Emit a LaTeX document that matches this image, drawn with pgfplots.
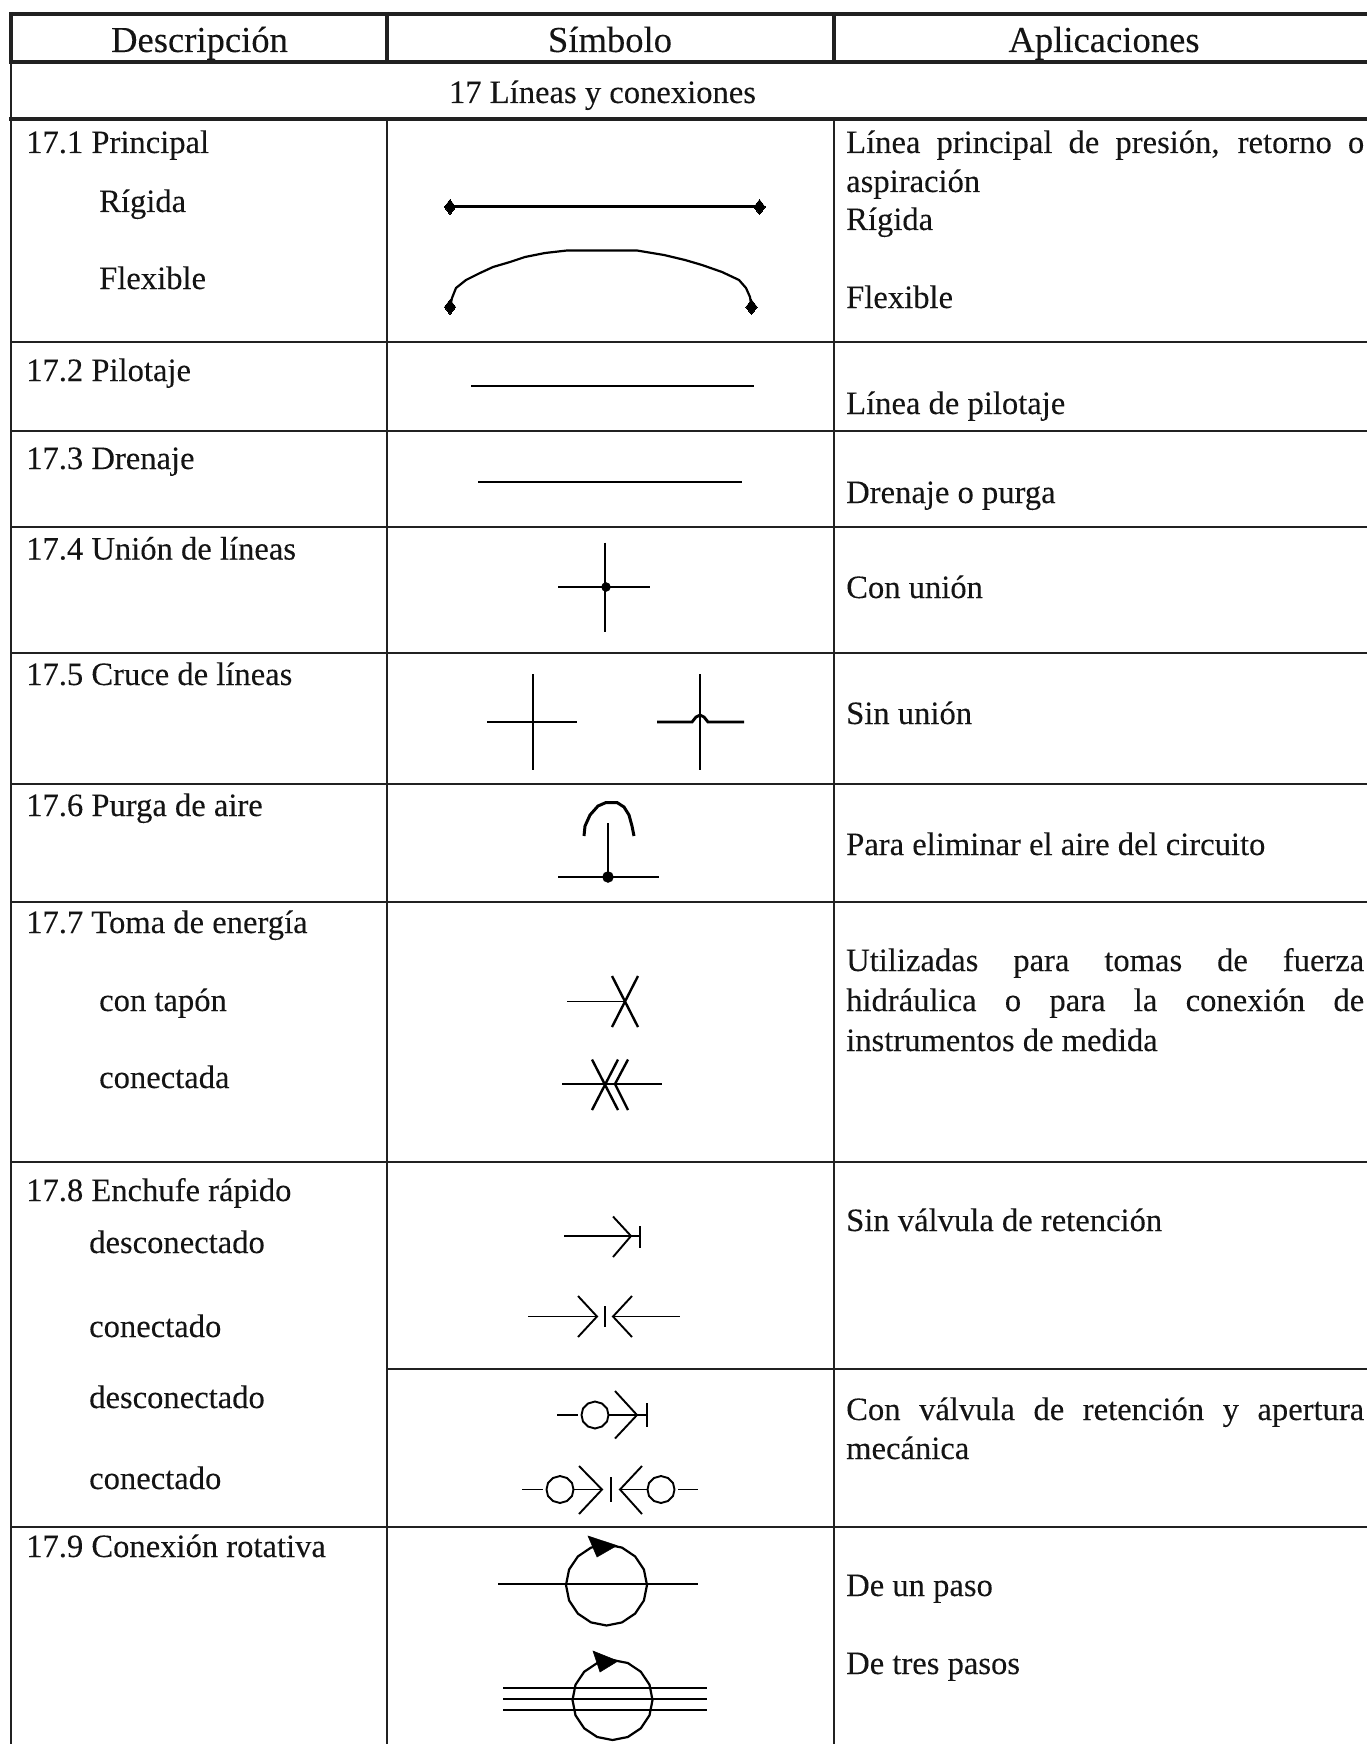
\documentclass[border=0pt]{standalone}
\usepackage{fontspec}
\setmainfont[FakeBold=0.12]{Liberation Serif}
\usepackage{pgfplots}
\pgfplotsset{compat=1.18}
\definecolor{txt}{gray}{0.08}
\definecolor{rule}{gray}{0.13}
\newcommand{\T}[3]{\node[anchor=base west,inner sep=0pt,text=txt,font=\fontsize{32.6}{36}\selectfont] at (axis cs:#1,#2) {#3};}
\newcommand{\J}[2]{\node[anchor=base west,inner sep=0pt,text=txt,font=\fontsize{32.6}{36}\selectfont] at (axis cs:846,#1) {\makebox[518pt][s]{#2}};}
\newcommand{\C}[4]{\node[anchor=base,inner sep=0pt,text=txt,font=\fontsize{#4}{#4}\selectfont] at (axis cs:#1,#2) {#3};}
\begin{document}
\begin{tikzpicture}
\path[use as bounding box] (0,0) rectangle (1367pt,1744pt);
\begin{axis}[
  at={(0,0)},anchor=south west,
  scale only axis,width=1367pt,height=1744pt,
  xmin=0,xmax=1367,ymin=0,ymax=1744,y dir=reverse,
  hide axis,
  thick1/.style={rule,line width=4pt,no markers},
  thin1/.style={rule,line width=2.2pt,no markers},
  sy/.style={black,line width=2.9pt,no markers},
  sn/.style={black,line width=1.9pt,no markers},
  fl/.style={black,fill=black,line width=0.5pt,no markers},
]
% table rules
\addplot[thick1] coordinates {(9,14) (1367,14)};
\addplot[thick1] coordinates {(9,62) (1367,62)};
\addplot[thick1] coordinates {(9,119) (1367,119)};
\addplot[thick1] coordinates {(11,12) (11,64)};
\addplot[thick1] coordinates {(387,12) (387,64)};
\addplot[thick1] coordinates {(834,12) (834,64)};
\addplot[thin1,line width=2.8pt] coordinates {(11,60) (11,1744)};
\addplot[thin1] coordinates {(387,119) (387,1744)};
\addplot[thin1,line width=2.8pt] coordinates {(834,119) (834,1744)};
\addplot[thin1] coordinates {(11,342) (1367,342)};
\addplot[thin1] coordinates {(11,431) (1367,431)};
\addplot[thin1] coordinates {(11,527) (1367,527)};
\addplot[thin1] coordinates {(11,653) (1367,653)};
\addplot[thin1] coordinates {(11,784) (1367,784)};
\addplot[thin1] coordinates {(11,902) (1367,902)};
\addplot[thin1] coordinates {(11,1162) (1367,1162)};
\addplot[thin1] coordinates {(387,1369) (1367,1369)};
\addplot[thin1] coordinates {(11,1527) (1367,1527)};
% 17.1
\addplot[black,line width=3pt,mark=diamond*,mark size=7.5pt,mark options={black,line width=0pt}] coordinates {(450,207) (759.5,207)};
\addplot[sn,line width=2.2pt] coordinates {(450,307) (452,298) (456,288) (466,280) (480,273) (493,267) (510,262) (525,257) (545,253) (567,250.5) (637,250.5) (664,255) (685,260) (702,265) (722,272) (739,280) (746,288) (750,297) (751.5,307)};
\addplot[only marks,mark=diamond*,mark size=7.5pt,mark options={black,line width=0pt}] coordinates {(450,307) (751.5,307)};
% 17.2, 17.3
\addplot[sy] coordinates {(471,386) (754,386)};
\addplot[sy] coordinates {(478,482) (742,482)};
% 17.4
\addplot[sy] coordinates {(605,542.5) (605,632)};
\addplot[sy] coordinates {(558,587) (650,587)};
\addplot[only marks,mark=*,mark size=4.5pt,mark options={black}] coordinates {(606,587)};
% 17.5
\addplot[sy] coordinates {(533,674) (533,770)};
\addplot[sy] coordinates {(487,722) (577,722)};
\addplot[sy] coordinates {(700,674) (700,770)};
\addplot[sy] coordinates {(657,722) (692,722) (696,717) (700,715) (704,717) (708,722) (744,722)};
% 17.6
\addplot[sy,line width=3pt] coordinates {(584,836) (585,826) (590,815) (598,806) (606,802.5) (617,802.5) (624,807) (629,815) (632,826) (634,836)};
\addplot[sy] coordinates {(608,823) (608,877)};
\addplot[sy] coordinates {(558,877) (659,877)};
\addplot[only marks,mark=*,mark size=5.5pt,mark options={black}] coordinates {(608,877)};
% 17.7
\addplot[sn] coordinates {(567,1001.5) (625,1001.5)};
\addplot[sy,line width=2.4pt] coordinates {(612,976) (638,1027)};
\addplot[sy,line width=2.4pt] coordinates {(638,976) (612,1027)};
\addplot[sy] coordinates {(562,1084) (662,1084)};
\addplot[sy,line width=2.4pt] coordinates {(592,1059.5) (618,1110)};
\addplot[sy,line width=2.4pt] coordinates {(618,1059.5) (592,1110)};
\addplot[sy,line width=2.4pt] coordinates {(628,1059.5) (615,1084) (628,1110)};
% 17.8 sin valvula
\addplot[sn] coordinates {(564,1236) (641,1236)};
\addplot[sn] coordinates {(613,1216.5) (631,1236) (613,1257)};
\addplot[sy,line width=2.4pt] coordinates {(640,1226) (640,1247.5)};
\addplot[sn] coordinates {(528,1316.5) (597,1316.5)};
\addplot[sn] coordinates {(578,1296) (597,1316.5) (578,1337)};
\addplot[sy,line width=2.6pt] coordinates {(605,1306) (605,1327)};
\addplot[sn] coordinates {(613,1316.5) (680,1316.5)};
\addplot[sn] coordinates {(632,1296) (613,1316.5) (632,1337)};
% 17.8 con valvula
\addplot[sn] coordinates {(557,1415) (578,1415)};
\addplot[sn] coordinates {(608.5,1415) (607,1421.5) (602,1426.5) (595,1428.5) (588,1426.5) (583,1421.5) (581.5,1415) (583,1408.5) (588,1403.5) (595,1401.5) (602,1403.5) (607,1408.5) (608.5,1415)};
\addplot[sn] coordinates {(609,1415) (647,1415)};
\addplot[sn] coordinates {(615,1391) (637,1415) (615,1438.5)};
\addplot[sn,line width=2.2pt] coordinates {(647,1403) (647,1427)};
\addplot[sn] coordinates {(522,1489.5) (543,1489.5)};
\addplot[sn] coordinates {(573.5,1489.5) (572,1496) (567,1501) (560,1503) (553,1501) (548,1496) (546.5,1489.5) (548,1483) (553,1478) (560,1476) (567,1478) (572,1483) (573.5,1489.5)};
\addplot[sn] coordinates {(573,1489.5) (602,1489.5)};
\addplot[sn] coordinates {(579,1466) (602,1489.5) (579,1514)};
\addplot[sy,line width=2.6pt] coordinates {(611,1477) (611,1501.5)};
\addplot[sn] coordinates {(642,1466) (620,1489.5) (642,1514)};
\addplot[sn] coordinates {(620,1489.5) (648,1489.5)};
\addplot[sn] coordinates {(674.5,1489.5) (673,1496) (668,1501) (661,1503) (654,1501) (649,1496) (647.5,1489.5) (649,1483) (654,1478) (661,1476) (668,1478) (673,1483) (674.5,1489.5)};
\addplot[sn] coordinates {(678,1489.5) (698,1489.5)};
% 17.9
\addplot[sy] coordinates {(498,1584) (698,1584)};
\addplot[sn,line width=2.2pt] coordinates {(647,1585) (643.9,1569.5) (635.1,1556.4) (622,1547.6) (606.5,1544.5) (591,1547.6) (577.9,1556.4) (569.1,1569.5) (566,1585) (569.1,1600.5) (577.9,1613.6) (591,1622.4) (606.5,1625.5) (622,1622.4) (635.1,1613.6) (643.9,1600.5) (647,1585)};
\addplot[fl] coordinates {(588,1536) (617,1545.5) (597,1557)} -- cycle;
\addplot[sn] coordinates {(503,1688) (707,1688)};
\addplot[sy] coordinates {(503,1699) (707,1699)};
\addplot[sn] coordinates {(503,1710) (707,1710)};
\addplot[sn,line width=2.2pt] coordinates {(652.5,1700) (649.5,1684.7) (640.8,1671.7) (627.8,1663) (612.5,1660) (597.2,1663) (584.2,1671.7) (575.5,1684.7) (572.5,1700) (575.5,1715.3) (584.2,1728.3) (597.2,1737) (612.5,1740) (627.8,1737) (640.8,1728.3) (649.5,1715.3) (652.5,1700)};
\addplot[fl] coordinates {(593,1651) (618,1661) (600,1672)} -- cycle;
% headers
\C{199.5}{52}{Descripción}{36.6}
\C{610}{52}{Símbolo}{36.6}
\C{1104}{52}{Aplicaciones}{36.6}
\C{602.5}{103}{17 Líneas y conexiones}{32.6}
% left column
\T{26}{153}{17.1 Principal}
\T{99}{212}{Rígida}
\T{99}{289}{Flexible}
\T{26}{381}{17.2 Pilotaje}
\T{26}{469}{17.3 Drenaje}
\T{26}{559.5}{17.4 Unión de líneas}
\T{26}{685}{17.5 Cruce de líneas}
\T{26}{816}{17.6 Purga de aire}
\T{26}{933}{17.7 Toma de energía}
\T{99}{1011}{con tapón}
\T{99}{1088}{conectada}
\T{26}{1201}{17.8 Enchufe rápido}
\T{89}{1253}{desconectado}
\T{89}{1337}{conectado}
\T{89}{1408}{desconectado}
\T{89}{1489}{conectado}
\T{26}{1557}{17.9 Conexión rotativa}
% right column
\J{153}{Línea principal de presión, retorno o}
\T{846}{192}{aspiración}
\T{846}{230}{Rígida}
\T{846}{308}{Flexible}
\T{846}{414}{Línea de pilotaje}
\T{846}{503}{Drenaje o purga}
\T{846}{598}{Con unión}
\T{846}{724}{Sin unión}
\T{846}{855}{Para eliminar el aire del circuito}
\J{971}{Utilizadas para tomas de fuerza}
\J{1011}{hidráulica o para la conexión de}
\T{846}{1051}{instrumentos de medida}
\T{846}{1231}{Sin válvula de retención}
\J{1420}{Con válvula de retención y apertura}
\T{846}{1459}{mecánica}
\T{846}{1596}{De un paso}
\T{846}{1674}{De tres pasos}
\end{axis}
\end{tikzpicture}
\end{document}
